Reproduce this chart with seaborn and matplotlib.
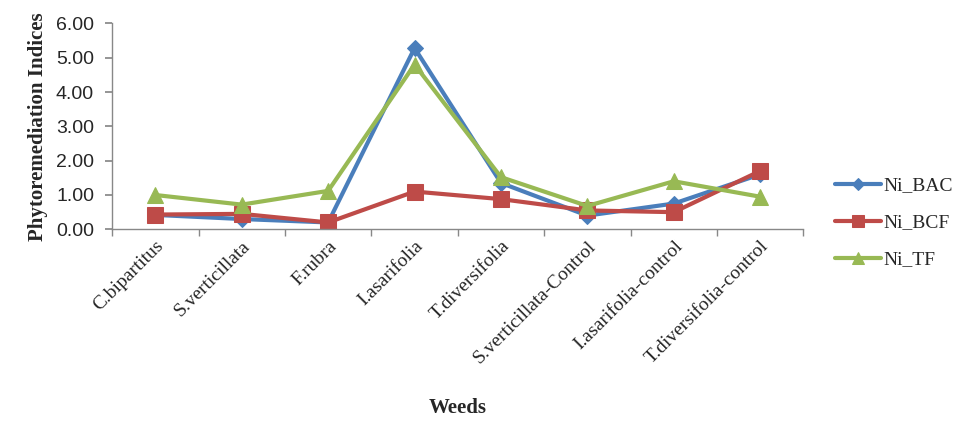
import matplotlib
matplotlib.use('Agg')
import matplotlib.pyplot as plt
import seaborn as sns
import pandas as pd

weeds = ['C.bipartitus', 'S.verticillata', 'F.rubra', 'I.asarifolia', 'T.diversifolia',
         'S.verticillata-Control', 'I.asarifolia-control', 'T.diversifolia-control']
ni_bac = [0.42, 0.30, 0.20, 5.28, 1.35, 0.40, 0.75, 1.60]
ni_bcf = [0.43, 0.45, 0.20, 1.10, 0.88, 0.55, 0.50, 1.70]
ni_tf = [1.00, 0.72, 1.12, 4.80, 1.52, 0.68, 1.40, 0.95]

df = pd.DataFrame({'Weeds': weeds, 'Ni_BAC': ni_bac, 'Ni_BCF': ni_bcf, 'Ni_TF': ni_tf})
long_df = df.melt(id_vars='Weeds', var_name='index', value_name='value')

sns.set_theme(style='white')
plt.rcParams['font.family'] = ['Liberation Serif', 'DejaVu Serif']

colors = {'Ni_BAC': '#4a7ebb', 'Ni_BCF': '#be4b48', 'Ni_TF': '#98b954'}
markers = {'Ni_BAC': 'D', 'Ni_BCF': 's', 'Ni_TF': '^'}
msizes = {'Ni_BAC': 8, 'Ni_BCF': 11, 'Ni_TF': 12}

fig = plt.figure(figsize=(9.75, 4.41), dpi=100)
ax = fig.add_axes([0.115, 0.48, 0.709, 0.467])

for name in ['Ni_BAC', 'Ni_BCF', 'Ni_TF']:
    sub = long_df[long_df['index'] == name]
    sns.lineplot(x='Weeds', y='value', data=sub, ax=ax, color=colors[name], marker=markers[name],
                 markersize=msizes[name], markeredgecolor=colors[name], linewidth=3,
                 sort=False, label=name)

ax.set_ylim(0, 6)
ax.set_yticks([0, 1, 2, 3, 4, 5, 6])
ax.set_yticklabels([f'{v:.2f}' for v in range(7)], fontsize=14, family='Liberation Sans')
ax.set_xlim(-0.5, len(weeds) - 0.5)
ax.set_xticks(range(len(weeds)))
ax.set_xticklabels(weeds, rotation=45, ha='right', rotation_mode='anchor', fontsize=14)
ax.set_xticks([i - 0.5 for i in range(len(weeds) + 1)], minor=True)
ax.tick_params(axis='x', which='major', length=0, pad=6)
ax.tick_params(axis='x', which='minor', length=5, color='#888888', direction='out', bottom=True)
ax.tick_params(axis='y', length=5, color='#888888', direction='out', left=True, pad=8)

for s in ['top', 'right']:
    ax.spines[s].set_visible(False)
for s in ['left', 'bottom']:
    ax.spines[s].set_color('#888888')
    ax.spines[s].set_linewidth(1)

ax.set_xlabel('Weeds', fontsize=15, fontweight='bold')
ax.set_ylabel('Phytoremediation Indices', fontsize=15, fontweight='bold')
ax.xaxis.set_label_coords(0.5, -0.82)
ax.yaxis.set_label_coords(-0.093, 0.5)

leg = ax.legend(loc='upper left', bbox_to_anchor=(1.02, 0.34), frameon=False, fontsize=14,
                handlelength=2.4, handletextpad=0.1, labelspacing=1.0, markerscale=0.75)

fig.savefig('out.png', dpi=100)
